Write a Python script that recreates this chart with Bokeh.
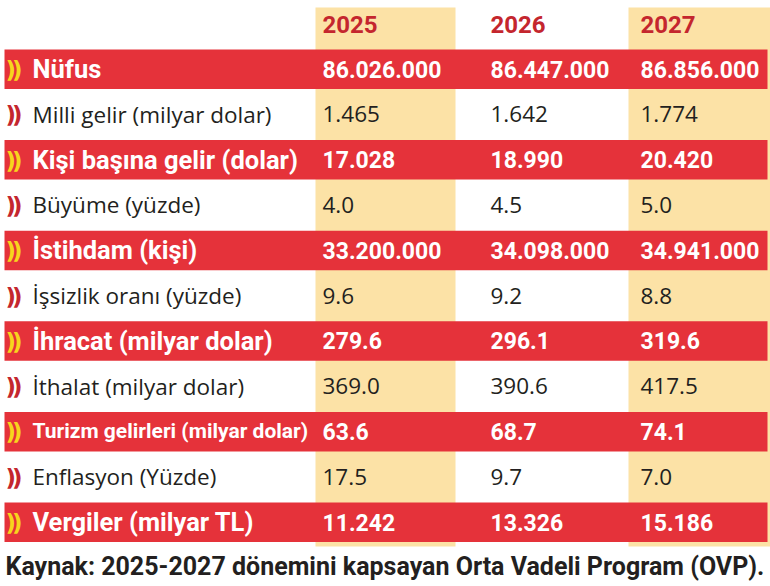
from bokeh.plotting import figure
from bokeh.models import Range1d
from bokeh.core.properties import value
from bokeh.embed import file_html
from bokeh.resources import INLINE

# ---- data ----
years = ["2025", "2026", "2027"]
labels = [
    "Nüfus",
    "Milli gelir (milyar dolar)",
    "Kişi başına gelir (dolar)",
    "Büyüme (yüzde)",
    "İstihdam (kişi)",
    "İşsizlik oranı (yüzde)",
    "İhracat (milyar dolar)",
    "İthalat (milyar dolar)",
    "Turizm gelirleri (milyar dolar)",
    "Enflasyon (Yüzde)",
    "Vergiler (milyar TL)",
]
v2025 = ["86.026.000", "1.465", "17.028", "4.0", "33.200.000", "9.6",
         "279.6", "369.0", "63.6", "17.5", "11.242"]
v2026 = ["86.447.000", "1.642", "18.990", "4.5", "34.098.000", "9.2",
         "296.1", "390.6", "68.7", "9.7", "13.326"]
v2027 = ["86.856.000", "1.774", "20.420", "5.0", "34.941.000", "8.8",
         "319.6", "417.5", "74.1", "7.0", "15.186"]
source_note = "Kaynak: 2025-2027 dönemini kapsayan Orta Vadeli Program (OVP)."

# ---- layout / style ----
W, H = 770, 586
ROW0_TOP = 49
ROW_H = 45.3
BAND_H = 39.5
MID_OFF = 19.5          # text centre below band top
COL_X = [322, 490, 640]
COL_SPAN = [(315, 455), None, (628, 770)]
HEAD_MID = 24
YEL_TOP, YEL_BOT = 7, 546
FOOT_MID = 566
RED = "#e5323a"
HEAD_RED = "#c4262e"
YELLOW = "#fce2a6"
CHEV_YEL = "#f7d51d"
DARK = "#231f20"
BOLD_FONT = "Roboto"
REG_FONT = "Open Sans"
BOLD_LABEL_SIZE = 25.5
BOLD_VALUE_SIZE = 23
NARROW_LABEL_SIZE = 21   # the long bold label is set tighter
REG_SIZE = 22.5
LABEL_X = 32
CHEV_X = [5, 11.5]

p = figure(width=W, height=H, x_range=Range1d(0, W), y_range=Range1d(H, 0),
           output_backend="svg", toolbar_location=None, min_border=0,
           x_axis_location=None, y_axis_location=None)
p.grid.visible = False
p.outline_line_color = None
p.background_fill_color = "white"
p.border_fill_color = "white"

n = len(labels)
tops = [ROW0_TOP + ROW_H * i for i in range(n)]
mids = [t + MID_OFF for t in tops]
hl = [i % 2 == 0 for i in range(n)]

# yellow columns
ycols = [c for c in COL_SPAN if c is not None]
p.quad(left=[c[0] for c in ycols], right=[c[1] for c in ycols],
       top=[YEL_TOP] * len(ycols), bottom=[YEL_BOT] * len(ycols),
       fill_color=YELLOW, line_color=None)

# red bands
red_t = [t for t, h in zip(tops, hl) if h]
p.quad(left=[4] * len(red_t), right=[767] * len(red_t),
       top=red_t, bottom=[t + BAND_H for t in red_t],
       fill_color=RED, line_color=None)

# header
p.text(x=COL_X, y=[HEAD_MID] * 3, text=years, text_font=value(BOLD_FONT),
       text_font_style="bold", text_font_size=value("24px"), text_color=HEAD_RED,
       text_baseline="middle", text_align="left")

# chevrons
for cx in CHEV_X:
    p.text(x=[cx] * n, y=[m + 1 for m in mids], text=[")"] * n,
           text_font=value("DejaVu Sans"), text_font_style="bold",
           text_font_size=value("23px"),
           text_color=[CHEV_YEL if h else HEAD_RED for h in hl],
           text_baseline="middle", text_align="left")

# labels + values
for rows_hl, style, font, lsize, vsize, color in [
    (True, "bold", BOLD_FONT, BOLD_LABEL_SIZE, BOLD_VALUE_SIZE, "white"),
    (False, "normal", REG_FONT, REG_SIZE, REG_SIZE, DARK),
]:
    idx = [i for i in range(n) if hl[i] == rows_hl]
    ys = [mids[i] for i in idx]
    lab_sizes = []
    for i in idx:
        s = lsize
        if rows_hl and len(labels[i]) > 26:
            s = NARROW_LABEL_SIZE
        lab_sizes.append(f"{s}px")
    p.text(x=[LABEL_X] * len(idx), y=ys, text=[labels[i] for i in idx],
           text_font=value(font), text_font_style=style, text_font_size=lab_sizes,
           text_color=color, text_baseline="middle", text_align="left")
    for cx, vals in zip(COL_X, [v2025, v2026, v2027]):
        p.text(x=[cx] * len(idx), y=ys, text=[vals[i] for i in idx],
               text_font=value(font), text_font_style=style,
               text_font_size=value(f"{vsize}px"),
               text_color=color, text_baseline="middle", text_align="left")

# footer
p.text(x=[5], y=[FOOT_MID], text=[source_note], text_font=value(BOLD_FONT),
       text_font_style="bold", text_font_size=value("25px"), text_color=DARK,
       text_baseline="middle", text_align="left")

open("out.html", "w").write(file_html(p, INLINE))
